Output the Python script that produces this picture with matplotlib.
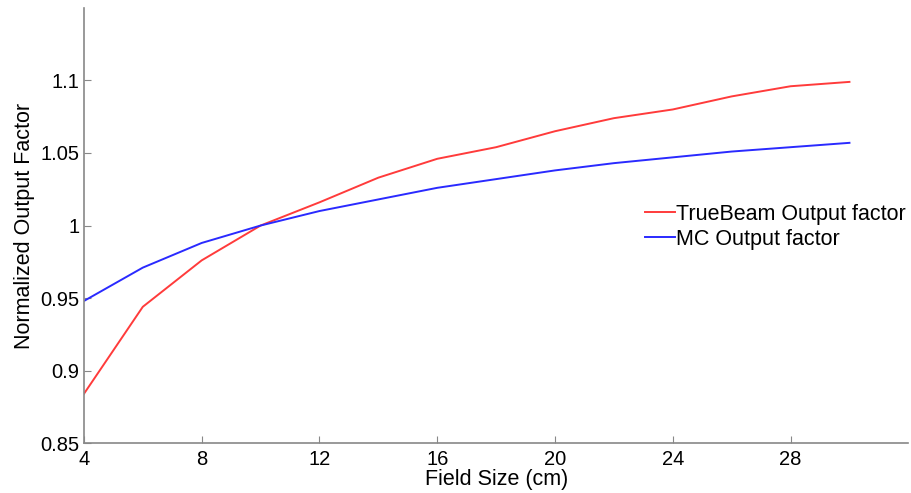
import matplotlib.pyplot as plt

plt.rcParams['font.family'] = ['Liberation Sans', 'DejaVu Sans']

field_size = [4, 6, 8, 10, 12, 14, 16, 18, 20, 22, 24, 26, 28, 30]
truebeam = [0.884, 0.944, 0.976, 1.000, 1.016, 1.033, 1.046, 1.054, 1.065,
            1.074, 1.080, 1.089, 1.096, 1.099]
mc = [0.948, 0.971, 0.988, 1.000, 1.010, 1.018, 1.026, 1.032, 1.038,
      1.043, 1.047, 1.051, 1.054, 1.057]
xticks = [4, 8, 12, 16, 20, 24, 28]
yticks = [0.85, 0.9, 0.95, 1.0, 1.05, 1.1]
ytick_labels = ['0.85', '0.9', '0.95', '1', '1.05', '1.1']

fig = plt.figure(figsize=(9.12, 4.93), dpi=100)
ax = fig.add_axes([0.092, 0.101, 0.904, 0.883])

ax.plot(field_size, truebeam, color='#ff3b3b', lw=1.4, label='TrueBeam Output factor')
ax.plot(field_size, mc, color='#2a2aff', lw=1.4, label='MC Output factor')

ax.set_xlim(4, 32)
ax.set_ylim(0.85, 1.15)
ax.set_xticks(xticks)
ax.set_yticks(yticks)
ax.set_yticklabels(ytick_labels)
ax.tick_params(direction='in', length=5, color='#888888', labelsize=14.5)
ax.tick_params(axis='x', pad=5)
ax.tick_params(axis='y', pad=3)

for side in ['top', 'right']:
    ax.spines[side].set_visible(False)
for side in ['left', 'bottom']:
    ax.spines[side].set_color('#888888')
    ax.spines[side].set_linewidth(1.2)

ax.set_xlabel('Field Size (cm)', fontsize=15.5, labelpad=0)
ax.set_ylabel('Normalized Output Factor', fontsize=15.5, labelpad=4)

# legend sits flush against its anchor, no frame
ax.legend(loc='center left', bbox_to_anchor=(0.68, 0.497), frameon=False,
          fontsize=15.5, handlelength=1.4, handletextpad=0.08, labelspacing=0.2,
          borderpad=0, borderaxespad=0)

fig.savefig('out.png', dpi=100)
